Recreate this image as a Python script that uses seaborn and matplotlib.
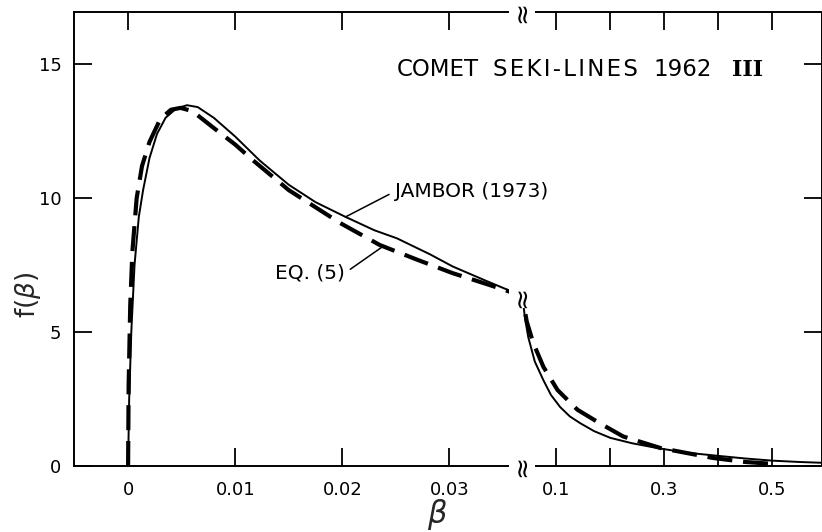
import numpy as np
import pandas as pd
import matplotlib
matplotlib.use("Agg")
import matplotlib.pyplot as plt
import seaborn as sns

# ---- data ----
beta_jambor = [0, 0.0001, 0.0003, 0.0006, 0.0010, 0.0014, 0.0020, 0.0027, 0.0035, 0.0045,
               0.0055, 0.0065, 0.0080, 0.0100, 0.0123, 0.0150, 0.0175, 0.0203, 0.0230,
               0.0251, 0.0282, 0.0303, 0.0335, 0.0368,
               0.042, 0.048, 0.060, 0.076, 0.090, 0.107, 0.125, 0.144, 0.170, 0.200,
               0.240, 0.287, 0.340, 0.404, 0.450, 0.500, 0.550, 0.592]
f_jambor = [0, 2.5, 5.0, 7.5, 9.3, 10.3, 11.5, 12.4, 13.0, 13.35,
            13.47, 13.4, 13.0, 12.3, 11.4, 10.5, 9.85, 9.3, 8.8,
            8.5, 7.9, 7.45, 6.9, 6.35,
            5.5, 4.8, 3.9, 3.2, 2.65, 2.2, 1.85, 1.6, 1.3, 1.05,
            0.85, 0.67, 0.5, 0.37, 0.28, 0.2, 0.15, 0.12]

beta_eq5 = [0, 0.00005, 0.0002, 0.0004, 0.0008, 0.0013, 0.0020, 0.0030, 0.0040, 0.0049,
            0.0060, 0.0079, 0.0100, 0.0117, 0.0150, 0.0198, 0.0235, 0.0270, 0.0303,
            0.0338, 0.0368,
            0.045, 0.057, 0.076, 0.102, 0.139, 0.180, 0.224, 0.293, 0.390, 0.450, 0.500]
f_eq5 = [0, 3.0, 6.0, 8.0, 10.0, 11.2, 12.1, 12.95, 13.3, 13.37,
         13.25, 12.65, 12.0, 11.4, 10.3, 9.07, 8.25, 7.7, 7.2,
         6.75, 6.35,
         5.4, 4.6, 3.7, 2.84, 2.1, 1.6, 1.1, 0.67, 0.3, 0.15, 0.08]

xticks = [0, 0.01, 0.02, 0.03, 0.1, 0.2, 0.3, 0.4, 0.5]
xticklabels = ["0", "0.01", "0.02", "0.03", "0.1", "", "0.3", "", "0.5"]
yticks = [0, 5, 10, 15]
yticklabels = ["0", "5", "10", "15"]

title_words = ["COMET", "SEKI-LINES", "1962"]
numeral = "III"
label_jambor = "JAMBOR (1973)"
label_eq5 = "EQ. (5)"

# ---- broken (piecewise linear) beta scale ----
XB = 0.0368
K = 0.0504


def fwd(x):
    x = np.asarray(x, dtype=float)
    return np.where(x <= XB, x, XB + (x - XB) * K)


def inv(u):
    u = np.asarray(u, dtype=float)
    return np.where(u <= XB, u, XB + (u - XB) / K)


sns.set_theme(style="white")
plt.rcParams["font.family"] = ["DejaVu Sans"]

fig = plt.figure(figsize=(8.22, 5.32), dpi=100)
ax = fig.add_axes([74 / 822, 66 / 532, (822 - 74) / 822, (466 - 12) / 532])
ax.set_xscale("function", functions=(fwd, inv))

dj = pd.DataFrame({"beta": beta_jambor, "f": f_jambor})
de = pd.DataFrame({"beta": beta_eq5, "f": f_eq5})
sns.lineplot(data=dj, x="beta", y="f", ax=ax, color="black", lw=1.4, sort=True)
sns.lineplot(data=de, x="beta", y="f", ax=ax, color="black", lw=3.0, sort=True)
ax.lines[-1].set_dashes([6, 2.6])
ax.lines[-1].set_dash_capstyle("butt")

ax.set_xlim(-0.00505, 0.592)
ax.set_ylim(0, 16.95)

ax.set_xticks(xticks)
ax.set_xticklabels(xticklabels)
ax.set_yticks(yticks)
ax.set_yticklabels(yticklabels)
ax.minorticks_off()
ax.tick_params(axis="both", which="major", direction="in", length=13, width=1.3,
               color="black", labelsize=13, labelcolor="black",
               top=True, right=True, bottom=True, left=True)
ax.tick_params(axis="x", pad=11)
ax.tick_params(axis="y", pad=9)

for s in ax.spines.values():
    s.set_color("black")
    s.set_linewidth(1.4)

ax.set_xlabel(r"$\beta$", fontsize=22)
ax.xaxis.set_label_coords((437 - 74) / 748, (466 - 497) / 454)
ax.set_ylabel(r"f($\beta$)", fontsize=19)
ax.yaxis.set_label_coords((43 - 74) / 748, (466 - 295) / 454)

# break marks
wiggle_box = dict(boxstyle="square,pad=0.0", fc="white", ec="none")
for yy in (0, 16.95):
    ax.text(XB, yy, "≈", rotation=90, ha="center", va="center", fontsize=19,
            color="black", clip_on=False, bbox=wiggle_box)
ax.text(XB, 6.3, "≈", rotation=90, ha="center", va="center", fontsize=19,
        color="black", bbox=wiggle_box)

# title words placed at the positions they have in the reference
word_px = [397, 493, 653]
word_text = [title_words[0], "\u200a".join(title_words[1]), title_words[2]]
ty = (466 - 70) / 454
for w, px in zip(word_text, word_px):
    ax.text((px - 74) / 748, ty, w, transform=ax.transAxes, fontsize=16.5,
            ha="left", va="center", color="black")
ax.text((732 - 74) / 748, ty, numeral, transform=ax.transAxes, fontsize=16,
        ha="left", va="center", color="black", family=["DejaVu Serif"],
        fontweight="bold")

ax.annotate(label_jambor, xy=(0.0203, 9.3), xytext=(0.0249, 10.25),
            fontsize=14.5, ha="left", va="center", color="black",
            arrowprops=dict(arrowstyle="-", color="black", lw=1.1,
                            shrinkA=2, shrinkB=0, relpos=(0, 0.5)))
ax.annotate(label_eq5, xy=(0.0238, 8.2), xytext=(0.0137, 7.2),
            fontsize=14.5, ha="left", va="center", color="black",
            arrowprops=dict(arrowstyle="-", color="black", lw=1.1,
                            shrinkA=2, shrinkB=0, relpos=(1, 0.5)))

fig.savefig("out.png", dpi=100)
